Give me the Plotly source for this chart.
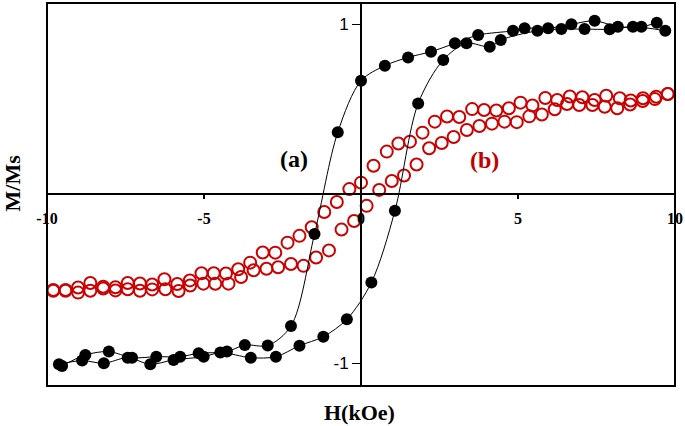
import plotly.graph_objects as go

# Sample (a): black filled circles, descending branch (H from +10 to -10)
a_down_H = [9.42, 8.93, 8.18, 7.44, 6.70, 5.96, 5.21, 4.84, 3.73, 2.99, 2.23, 1.50, 0.76, 0.0,
            -0.74, -1.48, -2.23, -2.97, -3.70, -4.27, -5.17, -5.76, -6.52, -7.29, -8.03, -8.78, -9.52]
a_down_M = [1.011, 0.987, 0.987, 1.022, 1.001, 0.978, 0.978, 0.963, 0.938, 0.889, 0.840, 0.806, 0.757, 0.668,
            0.364, -0.236, -0.779, -0.894, -0.891, -0.930, -0.940, -0.960, -0.960, -0.966, -0.930, -0.950, -1.015]

# Sample (a): ascending branch (H from -10 to +10)
a_up_H = [-9.62, -8.88, -8.19, -7.43, -6.71, -5.97, -5.01, -4.48, -3.51, -2.71, -1.96, -1.20, -0.45,
          0.33, 1.08, 1.82, 2.62, 3.36, 4.10, 4.45, 5.62, 6.38, 7.12, 7.92, 8.66, 9.69]
a_up_M = [-1.005, -0.983, -0.999, -0.966, -1.005, -0.979, -0.960, -0.936, -0.966, -0.960, -0.895, -0.842, -0.739,
          -0.522, -0.099, 0.534, 0.791, 0.889, 0.869, 0.909, 0.963, 0.973, 0.973, 0.972, 0.987, 0.963]

# Sample (b): red open circles, descending branch
b_down_H = [9.77, 9.40, 8.98, 8.59, 8.24, 7.81, 7.44, 7.05, 6.65, 6.25, 5.87, 5.46, 5.08, 4.71, 4.31, 3.92,
            3.54, 3.13, 2.74, 2.35, 1.96, 1.56, 1.19, 0.82, 0.40, 0.0, -0.37, -0.77, -1.17, -1.57, -1.96,
            -2.34, -2.73, -3.13, -3.53, -3.91, -4.30, -4.69, -5.08, -5.45, -5.85, -6.26, -6.65, -7.04,
            -7.43, -7.82, -8.21, -8.62, -9.01, -9.41, -9.80]
b_down_M = [0.590, 0.574, 0.565, 0.552, 0.565, 0.580, 0.555, 0.571, 0.575, 0.555, 0.566, 0.522, 0.539, 0.506,
            0.493, 0.496, 0.501, 0.454, 0.457, 0.427, 0.362, 0.309, 0.298, 0.250, 0.167, 0.067, 0.029,
            -0.047, -0.106, -0.196, -0.247, -0.287, -0.346, -0.345, -0.405, -0.444, -0.469, -0.468,
            -0.468, -0.510, -0.531, -0.503, -0.534, -0.528, -0.525, -0.550, -0.547, -0.525, -0.552,
            -0.566, -0.566]

# Sample (b): ascending branch
b_up_H = [-9.80, -9.41, -9.01, -8.62, -8.21, -7.82, -7.43, -7.04, -6.65, -6.23, -5.81, -5.44, -5.02, -4.64,
          -4.22, -3.82, -3.42, -3.01, -2.64, -2.23, -1.83, -1.43, -1.02, -0.62, -0.22, 0.18, 0.58, 0.98,
          1.37, 1.77, 2.17, 2.57, 2.95, 3.37, 3.77, 4.17, 4.57, 4.96, 5.36, 5.76, 6.17, 6.56, 6.95, 7.37,
          7.76, 8.16, 8.57, 8.97, 9.36, 9.77]
b_up_M = [-0.571, -0.571, -0.582, -0.571, -0.558, -0.569, -0.562, -0.571, -0.563, -0.562, -0.572, -0.540,
          -0.529, -0.530, -0.529, -0.490, -0.450, -0.441, -0.432, -0.413, -0.424, -0.375, -0.333, -0.210,
          -0.159, -0.070, 0.024, 0.077, 0.109, 0.174, 0.270, 0.301, 0.336, 0.378, 0.401, 0.415, 0.427,
          0.424, 0.458, 0.469, 0.500, 0.531, 0.525, 0.525, 0.515, 0.506, 0.528, 0.549, 0.560, 0.590]

x_ticks = [-10, -5, 0, 5, 10]
x_tick_text = ["-10", "-5", "0", "5", "10"]
y_ticks = [-1, 1]
y_tick_text = ["-1", "1"]

X_RANGE = [-10, 10]
Y_RANGE = [-1.133, 1.127]
RED = "#cc0000"

fig = go.Figure()

for hx, my in [(b_down_H, b_down_M), (b_up_H, b_up_M)]:
    fig.add_trace(go.Scatter(
        x=hx, y=my, mode="markers",
        marker=dict(symbol="circle-open", size=12, color=RED, line=dict(width=2, color=RED)),
        showlegend=False, hoverinfo="x+y"))

for hx, my in [(a_down_H, a_down_M), (a_up_H, a_up_M)]:
    fig.add_trace(go.Scatter(
        x=hx, y=my, mode="lines+markers",
        line=dict(color="black", width=1, shape="spline", smoothing=0.9),
        marker=dict(symbol="circle", size=12, color="black"),
        showlegend=False, hoverinfo="x+y"))

y0_pos = (0 - Y_RANGE[0]) / (Y_RANGE[1] - Y_RANGE[0])
x0_pos = (0 - X_RANGE[0]) / (X_RANGE[1] - X_RANGE[0])

fig.update_layout(
    width=685, height=426,
    margin=dict(l=47, r=10, t=3, b=40),
    paper_bgcolor="white", plot_bgcolor="white",
    xaxis=dict(range=X_RANGE, anchor="free", position=y0_pos,
               showline=True, linecolor="black", linewidth=2,
               showgrid=False, zeroline=False,
               tickmode="array", tickvals=x_ticks, ticktext=x_tick_text,
               ticks="outside", ticklen=4, tickwidth=2, tickcolor="black",
               ticklabelstandoff=6,
               tickfont=dict(family="Liberation Serif", size=16, color="black", weight="bold")),
    yaxis=dict(range=Y_RANGE, anchor="free", position=x0_pos,
               showline=True, linecolor="black", linewidth=2,
               showgrid=False, zeroline=False,
               tickmode="array", tickvals=y_ticks, ticktext=y_tick_text,
               ticks="outside", ticklen=8, tickwidth=1, tickcolor="black",
               tickfont=dict(family="Liberation Sans", size=17, color="black")),
    shapes=[dict(type="rect", xref="paper", yref="paper", x0=0, y0=0, x1=1, y1=1,
                 line=dict(color="black", width=2), fillcolor="rgba(0,0,0,0)", layer="above")],
    annotations=[
        dict(text="<b>M/Ms</b>", xref="paper", yref="paper", x=-0.055, y=0.53,
             xanchor="center", yanchor="middle", textangle=-90, showarrow=False,
             font=dict(family="Liberation Serif", size=22, color="black")),
        dict(text="<b>H(kOe)</b>", xref="paper", yref="paper", x=0.498, y=-0.068,
             xanchor="center", yanchor="middle", showarrow=False,
             font=dict(family="Liberation Serif", size=22, color="black")),
        dict(text="<b>(a)</b>", xref="paper", yref="paper", x=0.393, y=0.593,
             xanchor="center", yanchor="middle", showarrow=False,
             font=dict(family="Liberation Serif", size=24, color="black")),
        dict(text="<b>(b)</b>", xref="paper", yref="paper", x=0.697, y=0.591,
             xanchor="center", yanchor="middle", showarrow=False,
             font=dict(family="Liberation Serif", size=24, color="#c00000")),
    ],
)

fig.write_html("out.html", config={"displayModeBar": False},
               post_script="document.body.style.margin='0';")
